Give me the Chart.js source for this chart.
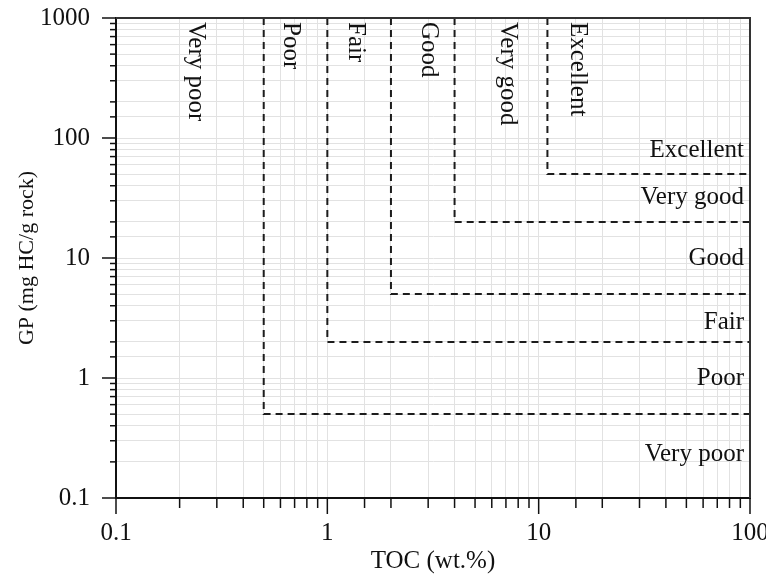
<!DOCTYPE html>
<html>
<head>
<meta charset="utf-8">
<script src="https://cdn.jsdelivr.net/npm/chart.js@4/dist/chart.umd.min.js"></script>
<style>
  html, body { margin: 0; padding: 0; background: #fff; }
  #wrap { width: 766px; height: 578px; }
</style>
</head>
<body>
<div id="wrap"><canvas id="chart"></canvas></div>
<script>
// axis ranges
const xMin = 0.1, xMax = 100;
const yMin = 0.1, yMax = 1000;

// class boundaries (TOC wt.% / GP mg HC/g rock)
const tocBounds = [0.5, 1, 2, 4, 11];
const gpBounds = [0.5, 2, 5, 20, 50];

// rating labels
const classNames = ["Very poor", "Poor", "Fair", "Good", "Very good", "Excellent"];
const tocLabelAt = [0.237, 0.668, 1.36, 3.0, 7.1, 15.3];
const gpLabelAt = [0.23, 1, 2.9, 10, 32, 79];

const FONT = "'Liberation Serif', 'Times New Roman', serif";

// dashed step boundaries
const boundarySets = tocBounds.map((t, i) => ({
    data: [{ x: t, y: yMax }, { x: t, y: gpBounds[i] }, { x: xMax, y: gpBounds[i] }],
    showLine: true,
    borderColor: "#1c1c1c",
    borderWidth: 2,
    borderDash: [7, 5],
    pointRadius: 0,
    fill: false,
}));

function isPow10(v) {
    const l = Math.log10(v);
    return Math.abs(l - Math.round(l)) < 1e-6;
}

// frame, tick marks and class labels
const decorPlugin = {
    id: "decor",
    afterDraw(c) {
        const ctx = c.ctx;
        const a = c.chartArea;
        const xs = c.scales.x, ys = c.scales.y;
        ctx.save();

        // tick marks
        ctx.strokeStyle = "#111";
        ctx.lineWidth = 1.5;
        xs.ticks.forEach(t => {
            const px = xs.getPixelForValue(t.value);
            const len = isPow10(t.value) ? 16 : 10;
            ctx.beginPath();
            ctx.moveTo(px, a.bottom);
            ctx.lineTo(px, a.bottom + len);
            ctx.stroke();
        });
        ys.ticks.forEach(t => {
            const py = ys.getPixelForValue(t.value);
            const len = isPow10(t.value) ? 14 : 6;
            ctx.beginPath();
            ctx.moveTo(a.left, py);
            ctx.lineTo(a.left - len, py);
            ctx.stroke();
        });

        // top and right frame
        ctx.strokeStyle = "#333";
        ctx.lineWidth = 2;
        ctx.beginPath();
        ctx.moveTo(a.left, a.top);
        ctx.lineTo(a.right, a.top);
        ctx.lineTo(a.right, a.bottom);
        ctx.stroke();

        ctx.fillStyle = "#111";
        ctx.font = "25px " + FONT;

        // vertical TOC class labels
        tocLabelAt.forEach((v, i) => {
            ctx.save();
            ctx.translate(xs.getPixelForValue(v), a.top + 4);
            ctx.rotate(Math.PI / 2);
            ctx.textAlign = "left";
            ctx.textBaseline = "middle";
            ctx.fillText(classNames[i], 0, 0);
            ctx.restore();
        });

        // horizontal GP class labels
        ctx.textAlign = "right";
        ctx.textBaseline = "middle";
        gpLabelAt.forEach((v, i) => {
            ctx.fillText(classNames[i], a.right - 6, ys.getPixelForValue(v));
        });

        ctx.restore();
    }
};

const chart = new Chart(document.getElementById("chart"), {
    type: "scatter",
    data: { datasets: boundarySets },
    options: {
        responsive: true,
        maintainAspectRatio: false,
        animation: false,
        layout: { padding: { top: 18, right: 16, left: 0, bottom: 0 } },
        plugins: {
            legend: { display: false },
            tooltip: { enabled: false },
        },
        scales: {
            x: {
                type: "logarithmic",
                min: xMin,
                max: xMax,
                afterFit: s => { s.height = 80; s.paddingLeft = 0; s.paddingRight = 0; },
                grid: {
                    color: "#e2e2e2",
                    lineWidth: 1,
                    tickLength: 16,
                    tickColor: "rgba(0,0,0,0)",
                },
                border: { color: "#111", width: 2 },
                ticks: {
                    autoSkip: false,
                    maxRotation: 0,
                    padding: 4,
                    color: "#111",
                    font: { family: FONT, size: 25 },
                    callback: v => isPow10(v) ? String(v) : "",
                },
                title: {
                    display: true,
                    text: "TOC (wt.%)",
                    color: "#111",
                    font: { family: FONT, size: 25 },
                    padding: { top: 0, bottom: 2 },
                },
            },
            y: {
                type: "logarithmic",
                min: yMin,
                max: yMax,
                afterFit: s => { s.width = 116; s.paddingTop = 0; s.paddingBottom = 0; },
                grid: {
                    color: "#e2e2e2",
                    lineWidth: 1,
                    tickLength: 14,
                    tickColor: "rgba(0,0,0,0)",
                },
                border: { color: "#111", width: 2 },
                ticks: {
                    autoSkip: false,
                    padding: 12,
                    color: "#111",
                    font: { family: FONT, size: 25 },
                    callback: v => isPow10(v) ? String(v) : "",
                },
                title: {
                    display: true,
                    text: "GP (mg HC/g rock)",
                    color: "#111",
                    font: { family: FONT, size: 22 },
                    padding: { top: 14, bottom: 0 },
                },
            },
        },
    },
    plugins: [decorPlugin],
});
</script>
</body>
</html>
